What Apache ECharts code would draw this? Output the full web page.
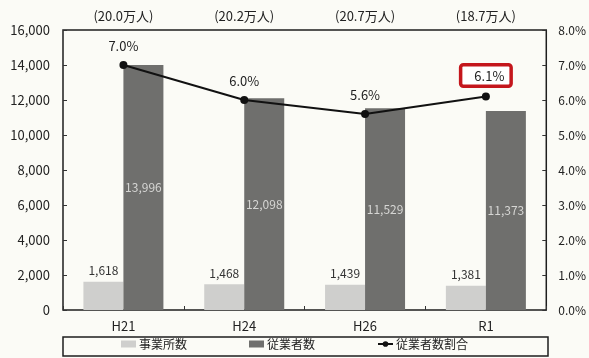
<!DOCTYPE html>
<html>
<head>
<meta charset="utf-8">
<script src="https://cdn.jsdelivr.net/npm/echarts@6/dist/echarts.min.js"></script>
<style>
  html, body { margin: 0; padding: 0; background: #fbfbf6; }
  #chart { width: 589px; height: 358px; }
</style>
</head>
<body>
<div id="chart"></div>
<script>
// Survey years and totals shown above each group
const years = ['H21', 'H24', 'H26', 'R1'];
const workerTotals = ['(20.0万人)', '(20.2万人)', '(20.7万人)', '(18.7万人)'];

// Establishments, employees and employee share (%)
const establishments = [1618, 1468, 1439, 1381];
const employees = [13996, 12098, 11529, 11373];
const employeeShare = [7.0, 6.0, 5.6, 6.1];

// Highlighted point on the share line
const highlightIndex = 3;

const FONT = '"Noto Sans CJK JP", "Noto Sans", sans-serif';
const fmt = v => v.toLocaleString('en-US');

const shareData = employeeShare.map((v, i) => {
  const item = { value: v };
  if (i === highlightIndex) {
    item.label = {
      backgroundColor: '#ffffff',
      borderColor: '#c4161c',
      borderWidth: 3.5,
      borderRadius: 1,
      padding: [3, 5, 2, 12],
      distance: 8
    };
  }
  return item;
});

const chart = echarts.init(document.getElementById('chart'));
chart.setOption({
  backgroundColor: '#fbfbf6',
  animation: false,
  textStyle: { fontFamily: FONT },
  grid: {
    left: 63, right: 41, top: 30, bottom: 48,
    show: true, borderColor: '#1e1e1e', borderWidth: 1.5,
    backgroundColor: 'transparent'
  },
  legend: {
    bottom: 3,
    left: 'center',
    itemGap: 62,
    itemWidth: 15,
    itemHeight: 7,
    textStyle: { fontFamily: FONT, fontSize: 12, color: '#222', padding: [0, 0, 0, -2] },
    data: [
      { name: '事業所数', icon: 'rect' },
      { name: '従業者数', icon: 'rect' },
      { name: '従業者数割合' }
    ]
  },
  graphic: [{
    type: 'rect',
    shape: { x: 63, y: 337, width: 485, height: 19 },
    style: { fill: 'none', stroke: '#1e1e1e', lineWidth: 1.5 },
    z: -1
  }],
  xAxis: [
    {
      type: 'category',
      data: years,
      position: 'bottom',
      axisLine: { show: false },
      axisTick: { show: true, inside: true, length: 4, lineStyle: { color: '#333' } },
      axisLabel: { color: '#222', fontSize: 13, margin: 10, fontFamily: FONT }
    },
    {
      type: 'category',
      data: workerTotals,
      position: 'top',
      axisLine: { show: false },
      axisTick: { show: false },
      axisLabel: { color: '#222', fontSize: 13, margin: 7, fontFamily: FONT }
    }
  ],
  yAxis: [
    {
      type: 'value',
      min: 0, max: 16000, interval: 2000,
      axisLine: { show: false },
      axisTick: { show: true, inside: true, length: 4, lineStyle: { color: '#333' } },
      splitLine: { show: false },
      axisLabel: { color: '#222', fontSize: 13, margin: 13, formatter: v => fmt(v) }
    },
    {
      type: 'value',
      min: 0, max: 8, interval: 1,
      position: 'right',
      axisLine: { show: false },
      axisTick: { show: true, inside: true, length: 4, lineStyle: { color: '#333' } },
      splitLine: { show: false },
      axisLabel: { color: '#222', fontSize: 12, margin: 12, formatter: v => v.toFixed(1) + '%' }
    }
  ],
  series: [
    {
      name: '事業所数',
      type: 'bar',
      data: establishments,
      barWidth: 40,
      barGap: '0%',
      itemStyle: { color: '#cfcfcd' },
      label: {
        show: true, position: 'top', distance: 5,
        color: '#333', fontSize: 12, formatter: p => fmt(p.value)
      }
    },
    {
      name: '従業者数',
      type: 'bar',
      data: employees,
      barWidth: 40,
      barGap: '0%',
      itemStyle: { color: '#6f6f6d' },
      label: {
        show: true, position: 'inside',
        color: '#d6d6d4', fontSize: 12, formatter: p => fmt(p.value)
      }
    },
    {
      name: '従業者数割合',
      type: 'line',
      yAxisIndex: 1,
      data: shareData,
      symbol: 'circle',
      symbolSize: 8,
      itemStyle: { color: '#111' },
      lineStyle: { color: '#111', width: 2 },
      label: {
        show: true, position: 'top', distance: 8,
        color: '#222', fontSize: 13, formatter: p => p.value.toFixed(1) + '%'
      },
      z: 5
    }
  ]
});
</script>
</body>
</html>
